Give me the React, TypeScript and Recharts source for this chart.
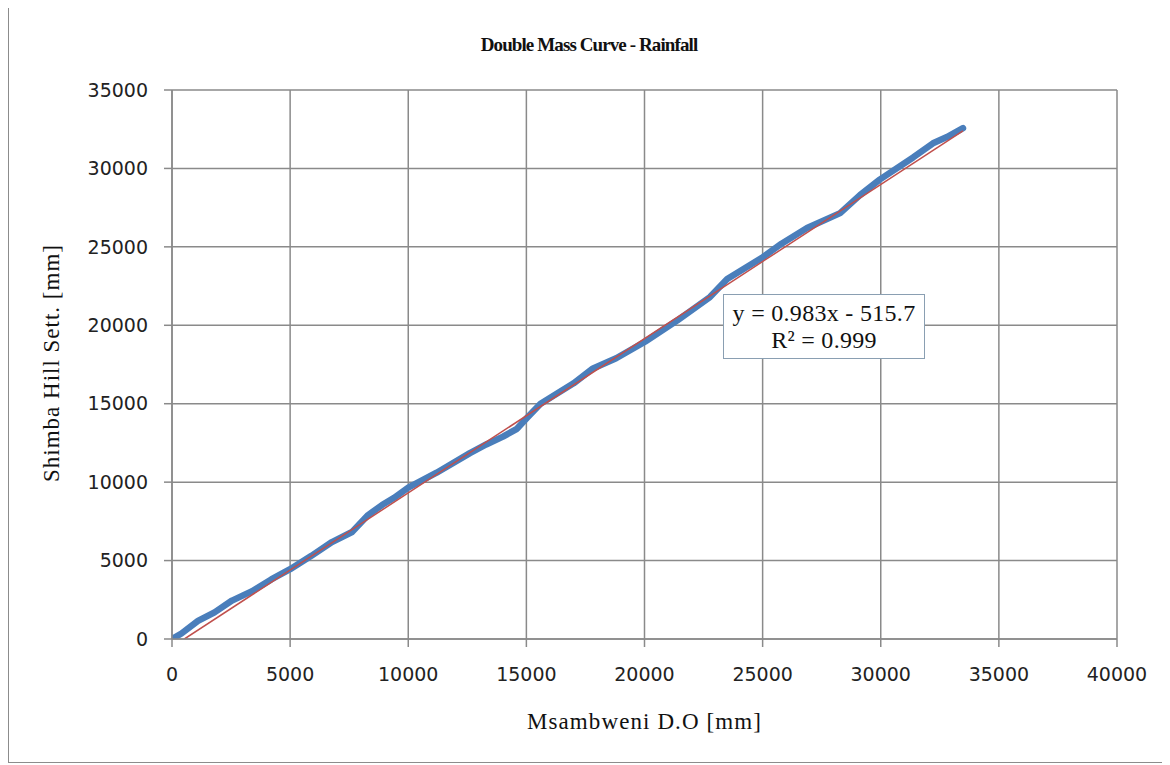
import React from 'react';
import { ComposedChart, Line, XAxis, YAxis, CartesianGrid } from 'recharts';

// Cumulative rainfall: Msambweni D.O (x) vs Shimba Hill Sett. (y), mm
const massX = [0, 400, 1100, 1800, 2540, 3390, 4200, 5000, 5900, 6770, 7620, 8300, 8890, 9400, 10000, 11200, 12610, 13300, 14010, 14600, 15030, 15600, 16300, 17000, 17820, 18800, 20020, 21380, 22770, 23500, 24590, 24970, 25800, 26880, 28280, 29120, 29970, 31370, 32210, 32800, 33480];
const massY = [0, 350, 1150, 1700, 2450, 3050, 3800, 4450, 5300, 6180, 6820, 7900, 8540, 9000, 9650, 10600, 11850, 12400, 12900, 13400, 14100, 15000, 15650, 16300, 17250, 17900, 18950, 20300, 21800, 22950, 23960, 24300, 25200, 26200, 27150, 28300, 29300, 30700, 31600, 32000, 32570];

// Linear trendline endpoints (y = 0.983x - 515.7)
const trendX = [525, 33480];
const trendY = [0, 32400];

const xTicks = [0, 5000, 10000, 15000, 20000, 25000, 30000, 35000, 40000];
const yTicks = [0, 5000, 10000, 15000, 20000, 25000, 30000, 35000];

const massData = massX.map((x, i) => ({ x, y: massY[i] }));
const trendData = trendX.map((x, i) => ({ x, y: trendY[i] }));

const tickStyle = { fontFamily: 'DejaVu Sans', fontSize: 19, fill: '#222' };
const serif = "'Liberation Serif', 'Times New Roman', serif";

export default function App() {
  return (
    <div
      style={{
        position: 'relative',
        width: 1160,
        height: 755,
        border: '1px solid #8c8c8c',
        marginTop: -2,
        background: '#fff',
      }}
    >
      <ComposedChart
        width={1160}
        height={755}
        margin={{ top: 83, right: 52, bottom: 0, left: 0 }}
      >
        <CartesianGrid stroke="#8a8a8a" strokeWidth={1.5} />
        <XAxis
          type="number"
          dataKey="x"
          domain={[0, 40000]}
          ticks={xTicks}
          interval={0}
          height={123}
          tickSize={8}
          tickMargin={21}
          stroke="#8a8a8a"
          strokeWidth={1.5}
          tick={tickStyle}
          allowDataOverflow
        />
        <YAxis
          type="number"
          dataKey="y"
          domain={[0, 35000]}
          ticks={yTicks}
          interval={0}
          width={163}
          tickSize={8}
          tickMargin={16}
          stroke="#8a8a8a"
          strokeWidth={1.5}
          tick={tickStyle}
          allowDataOverflow
        />
        <Line
          data={massData}
          dataKey="y"
          type="linear"
          stroke="#4a7ebb"
          strokeWidth={6.5}
          strokeLinejoin="round"
          strokeLinecap="round"
          dot={false}
          isAnimationActive={false}
        />
        <Line
          data={trendData}
          dataKey="y"
          type="linear"
          stroke="#c0504d"
          strokeWidth={1.5}
          dot={false}
          isAnimationActive={false}
        />
      </ComposedChart>
      <div
        style={{
          position: 'absolute',
          left: 0,
          width: 1160,
          top: 27,
          textAlign: 'center',
          fontFamily: serif,
          fontWeight: 'bold',
          fontSize: 19,
          letterSpacing: -0.9,
          color: '#111',
        }}
      >
        Double Mass Curve - Rainfall
      </div>
      <div
        style={{
          position: 'absolute',
          left: 163,
          width: 945,
          top: 702,
          textAlign: 'center',
          fontFamily: serif,
          fontSize: 23,
          letterSpacing: 1.1,
          color: '#111',
        }}
      >
        Msambweni D.O [mm]
      </div>
      <div
        style={{
          position: 'absolute',
          left: 43 - 150,
          top: 356 - 14,
          width: 300,
          height: 28,
          lineHeight: '28px',
          textAlign: 'center',
          transform: 'rotate(-90deg)',
          fontFamily: serif,
          fontSize: 23,
          letterSpacing: 1,
          color: '#111',
          whiteSpace: 'nowrap',
        }}
      >
        Shimba Hill Sett. [mm]
      </div>
      <div
        style={{
          position: 'absolute',
          left: 714,
          top: 287,
          width: 202,
          height: 65,
          border: '1px solid #8a9fb2',
          background: '#fff',
          fontFamily: serif,
          fontSize: 24,
          letterSpacing: 0.3,
          color: '#111',
          textAlign: 'center',
          lineHeight: '27px',
          paddingTop: 5,
          boxSizing: 'border-box',
        }}
      >
        <div>y = 0.983x - 515.7</div>
        <div>R² = 0.999</div>
      </div>
    </div>
  );
}
